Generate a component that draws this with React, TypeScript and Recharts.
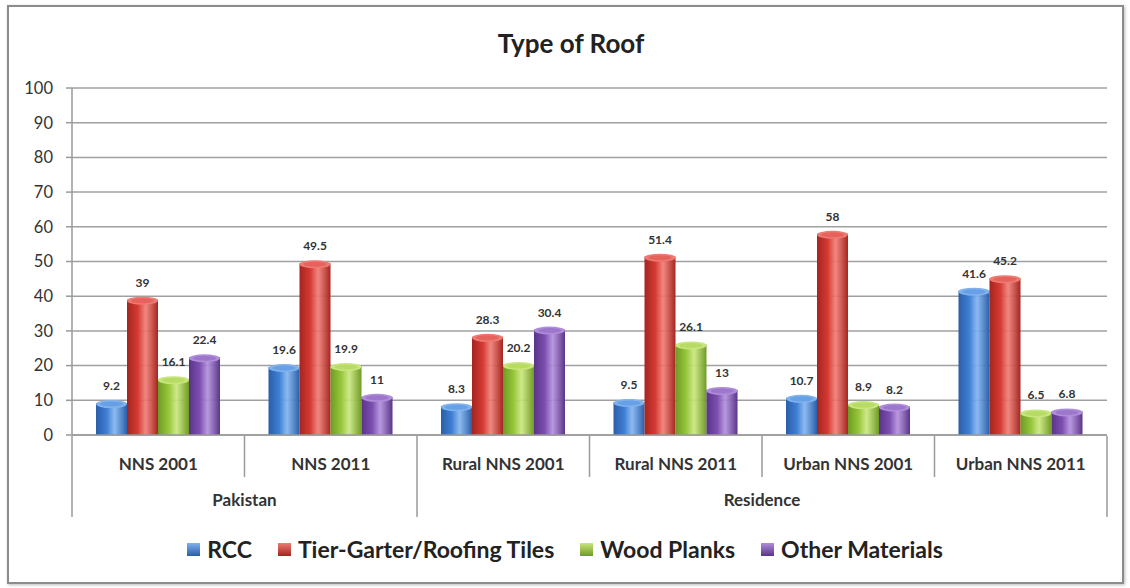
import { BarChart, Bar, XAxis, YAxis, CartesianGrid, Legend, LabelList } from 'recharts';

const categories = ['NNS 2001', 'NNS 2011', 'Rural NNS 2001', 'Rural NNS 2011', 'Urban NNS 2001', 'Urban NNS 2011'];
const groups = ['Pakistan', 'Pakistan', 'Residence', 'Residence', 'Residence', 'Residence'];
const rcc = [9.2, 19.6, 8.3, 9.5, 10.7, 41.6];
const tiles = [39, 49.5, 28.3, 51.4, 58, 45.2];
const wood = [16.1, 19.9, 20.2, 26.1, 8.9, 6.5];
const other = [22.4, 11, 30.4, 13, 8.2, 6.8];
const yTicks = [0, 10, 20, 30, 40, 50, 60, 70, 80, 90, 100];

const series = [
  { key: 'rcc', name: 'RCC', base: '#3f7fd4', light: '#7fb2ee', dark: '#2a5ea8' },
  { key: 'tiles', name: 'Tier-Garter/Roofing Tiles', base: '#d53a33', light: '#ee7a72', dark: '#a52520' },
  { key: 'wood', name: 'Wood Planks', base: '#97c73b', light: '#c8e67c', dark: '#6f9a24' },
  { key: 'other', name: 'Other Materials', base: '#7c4fb0', light: '#b08ddb', dark: '#5a3488' },
];

const data = categories.map((c, i) => ({
  name: c,
  group: groups[i],
  rcc: rcc[i],
  tiles: tiles[i],
  wood: wood[i],
  other: other[i],
}));

const FONT = 'Lato, "Open Sans", sans-serif';

function CylBar(props: any) {
  const { x, y, width, height, sid } = props;
  if (!height || height <= 0) return null;
  const s = series.find(v => v.key === sid)!;
  const ry = 4;
  return (
    <g>
      <rect x={x} y={y} width={width} height={height} fill={`url(#g-${sid})`} />
      <ellipse cx={x + width / 2} cy={y + 1} rx={width / 2} ry={ry} fill={s.light} />
      <ellipse cx={x + width / 2} cy={y + 1} rx={width / 2 - 4} ry={ry - 1.5} fill={s.base} opacity={0.35} />
    </g>
  );
}

function CatTick(props: any) {
  const { x, y, payload, index, width } = props;
  const bw = (width || 1035) / categories.length;
  const top = 436;
  const isGroupEnd = index === categories.length - 1 || groups[index] !== groups[index + 1];
  const right = x + bw / 2;
  const left = x - bw / 2;
  let groupLabel: string | null = null;
  if (index === 0) groupLabel = 'Pakistan';
  if (index === 3) groupLabel = 'Residence';
  return (
    <g>
      {index === 0 && <line x1={left} x2={left} y1={top} y2={top + 81} stroke="#9a9a9a" strokeWidth={1.5} />}
      <line x1={right} x2={right} y1={top} y2={top + (isGroupEnd ? 81 : 41)} stroke="#9a9a9a" strokeWidth={1.5} />
      <text x={x} y={y + 27} textAnchor="middle" fontFamily={FONT} fontWeight={700} fontSize={17} fill="#333">
        {payload.value}
      </text>
      {groupLabel && (
        <text x={right} y={y + 63} textAnchor="middle" fontFamily={FONT} fontWeight={700} fontSize={17} fill="#333">
          {groupLabel}
        </text>
      )}
    </g>
  );
}

function LegendContent() {
  return (
    <div style={{ display: 'flex', justifyContent: 'center', gap: 26, fontFamily: FONT, fontWeight: 700, fontSize: 23, color: '#222', lineHeight: '28px' }}>
      {series.map(s => (
        <div key={s.key} style={{ display: 'flex', alignItems: 'center' }}>
          <span style={{ display: 'inline-block', width: 13, height: 13, marginRight: 7, background: `linear-gradient(180deg, ${s.light}, ${s.dark})` }} />
          {s.name}
        </div>
      ))}
    </div>
  );
}

export default function App() {
  return (
    <div style={{ position: 'absolute', left: 0, top: 0, width: 1130, height: 588, background: '#fff' }}>
      <div style={{ position: 'absolute', left: 7, top: 5, width: 1113, height: 575, border: '2px solid #8c8c8c', boxShadow: '1px 1px 3px #bbb' }} />
      <div style={{ position: 'absolute', left: 0, top: 27, width: 1142, textAlign: 'center', fontFamily: FONT, fontWeight: 700, fontSize: 26, color: '#222' }}>
        Type of Roof
      </div>
      <div style={{ position: 'absolute', left: 0, top: 0 }}>
        <BarChart width={1130} height={588} data={data} margin={{ top: 88, right: 23, bottom: 42, left: 0 }} barSize={31} barGap={0}>
          <defs>
            {series.map(s => (
              <linearGradient key={s.key} id={`g-${s.key}`} x1="0" y1="0" x2="1" y2="0">
                <stop offset="0%" stopColor={s.dark} />
                <stop offset="35%" stopColor={s.base} />
                <stop offset="60%" stopColor={s.light} stopOpacity={0.9} />
                <stop offset="100%" stopColor={s.dark} />
              </linearGradient>
            ))}
          </defs>
          <CartesianGrid vertical={false} stroke="#a0a0a0" strokeWidth={1.5} />
          <XAxis dataKey="name" height={110} tickLine={false} axisLine={{ stroke: '#9a9a9a', strokeWidth: 1.5 }} tick={<CatTick />} interval={0} />
          <YAxis width={72} domain={[0, 100]} ticks={yTicks} tickSize={6} tickMargin={13}
            axisLine={{ stroke: '#9a9a9a', strokeWidth: 1.5 }} tickLine={{ stroke: '#9a9a9a', strokeWidth: 1.5 }}
            tick={{ fontFamily: FONT, fontSize: 16.5, fill: '#333' }} />
          <Legend content={<LegendContent />} height={1} wrapperStyle={{ position: 'absolute', left: 0, top: 535, width: 1130 }} />
          {series.map(s => (
            <Bar key={s.key} dataKey={s.key} name={s.name} fill={s.base} isAnimationActive={false}
              shape={(p: any) => <CylBar {...p} sid={s.key} />}>
              <LabelList dataKey={s.key} position="top" offset={13} style={{ fontFamily: FONT, fontWeight: 700, fontSize: 12, fill: '#333' }} />
            </Bar>
          ))}
        </BarChart>
      </div>
    </div>
  );
}
